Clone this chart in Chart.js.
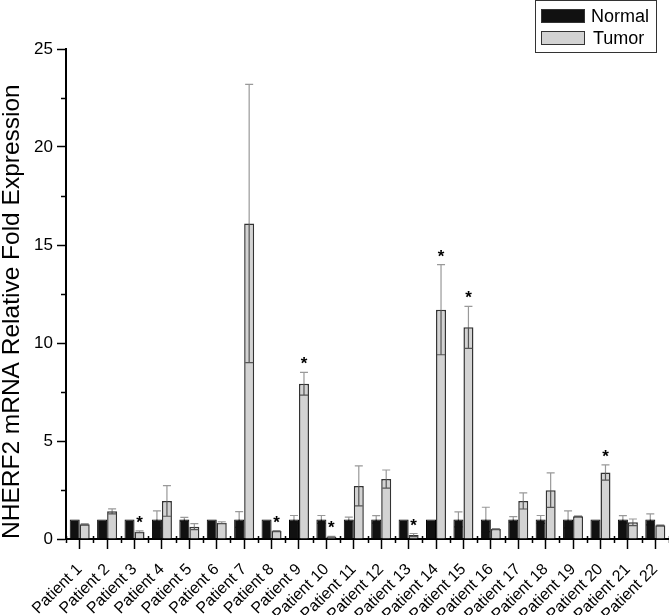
<!DOCTYPE html>
<html>
<head>
<meta charset="utf-8">
<title>NHERF2 mRNA</title>
<script src="https://cdn.jsdelivr.net/npm/chart.js@4.4.0/dist/chart.umd.min.js"></script>
<style>
    html, body { margin: 0; padding: 0; background: #fff; }
    canvas { display: block; }
</style>
</head>
<body>
<canvas id="nherfChart" width="669" height="615"></canvas>
<script>
// Kategorier (patienter)
const patients = [
    "Patient 1", "Patient 2", "Patient 3", "Patient 4", "Patient 5", "Patient 6",
    "Patient 7", "Patient 8", "Patient 9", "Patient 10", "Patient 11", "Patient 12",
    "Patient 13", "Patient 14", "Patient 15", "Patient 16", "Patient 17", "Patient 18",
    "Patient 19", "Patient 20", "Patient 21", "Patient 22"
];

// Normal vävnad är referens (1.0)
const normalValues = [1, 1, 1, 1, 1, 1, 1, 1, 1, 1, 1, 1, 1, 1, 1, 1, 1, 1, 1, 1, 1, 1];
const normalErrors = [0, 0, 0, 0.44, 0.1, 0, 0.4, 0, 0.2, 0.2, 0.12, 0.19, 0, 0, 0.38, 0.62, 0.14, 0.2, 0.43, 0, 0.19, 0.28];

// Tumörvävnad
const tumorValues = [0.75, 1.41, 0.37, 1.94, 0.63, 0.83, 16.1, 0.41, 7.92, 0.12, 2.71, 3.06, 0.2, 11.7, 10.8, 0.51, 1.94, 2.49, 1.16, 3.39, 0.85, 0.7];
const tumorErrors = [0.03, 0.13, 0.04, 0.78, 0.15, 0.05, 7.1, 0.02, 0.58, 0.02, 1.02, 0.46, 0.08, 2.3, 1.07, 0.02, 0.41, 0.88, 0.02, 0.39, 0.17, 0.02];

// Signifikanta skillnader (*)
const significant = [false, false, true, false, false, false, false, true, true, true, false, false, true, true, true, false, false, false, false, true, false, false];

// Y-axelns tick-etiketter
const yTicks = [0, 5, 10, 15, 20, 25];

const FONT = "'Liberation Sans', Arial, Helvetica, sans-serif";

/**Ritar felstaplar, stjärnor, små tick-markeringar och legend. */
const extrasPlugin = {
    id: "extras",
    afterDatasetsDraw(chart) {
        const ctx = chart.ctx;
        const x = chart.scales.x;
        const y = chart.scales.y;
        const errs = [normalErrors, tumorErrors];

        ctx.save();
        //Felstaplar (del inne i stapeln syns bara på tumörstaplar)
        chart.data.datasets.forEach((ds, di) => {
            const meta = chart.getDatasetMeta(di);
            meta.data.forEach((bar, i) => {
                const err = errs[di][i];
                if (!err) return;
                const v = ds.data[i];
                const yTop = y.getPixelForValue(v + err);
                const yBar = y.getPixelForValue(v);
                const yBot = y.getPixelForValue(Math.max(v - err, 0));
                const half = bar.width / 2 - 1;
                ctx.lineWidth = 1.2;
                ctx.strokeStyle = "#999";
                ctx.beginPath();
                ctx.moveTo(bar.x, yBar);
                ctx.lineTo(bar.x, yTop);
                ctx.moveTo(bar.x - half, yTop);
                ctx.lineTo(bar.x + half, yTop);
                ctx.stroke();
                ctx.strokeStyle = di === 0 ? "#111" : "#555";
                ctx.beginPath();
                ctx.moveTo(bar.x, yBar);
                ctx.lineTo(bar.x, yBot);
                ctx.moveTo(bar.x - half, yBot);
                ctx.lineTo(bar.x + half, yBot);
                ctx.stroke();
            });
        });

        //Stjärnor över tumörstaplar
        const tMeta = chart.getDatasetMeta(1);
        ctx.fillStyle = "#000";
        ctx.font = "bold 17px " + FONT;
        ctx.textAlign = "center";
        ctx.textBaseline = "alphabetic";
        significant.forEach((s, i) => {
            if (!s) return;
            const bar = tMeta.data[i];
            const top = y.getPixelForValue(tumorValues[i] + tumorErrors[i]);
            ctx.fillText("*", bar.x, top - 3);
        });

        //Små tick-markeringar på y-axeln (2.5-steg)
        ctx.strokeStyle = "#000";
        ctx.lineWidth = 1.5;
        ctx.beginPath();
        for (let v = 2.5; v < 25; v += 5) {
            const py = Math.round(y.getPixelForValue(v)) + 0.5;
            ctx.moveTo(y.right - 5, py);
            ctx.lineTo(y.right, py);
        }
        //Små tick-markeringar på kategorigränser
        const step = (x.right - x.left) / patients.length;
        for (let k = 0; k <= patients.length; k++) {
            const px = Math.round(x.left + k * step) + 0.5;
            ctx.moveTo(px, x.top - 3);
            ctx.lineTo(px, x.top + 4);
        }
        ctx.stroke();

        //Legend
        ctx.lineWidth = 1;
        ctx.strokeStyle = "#333";
        ctx.strokeRect(535.5, 0.5, 121, 52);
        ctx.fillStyle = "#111";
        ctx.fillRect(541, 9, 44, 14);
        ctx.strokeRect(541.5, 9.5, 43, 13);
        ctx.fillStyle = "#d3d3d3";
        ctx.fillRect(541, 31, 44, 14);
        ctx.strokeRect(541.5, 31.5, 43, 13);
        ctx.fillStyle = "#000";
        ctx.font = "18px " + FONT;
        ctx.textAlign = "left";
        ctx.textBaseline = "middle";
        ctx.fillText(chart.data.datasets[0].label, 591, 17);
        ctx.fillText(chart.data.datasets[1].label, 593, 39);
        ctx.restore();
    }
};

function createBarChart() {
    const ctx = document.getElementById("nherfChart");

    new Chart(ctx, {
        type: "bar",
        data: {
            labels: patients,
            datasets: [{
                label: "Normal",
                data: normalValues,
                backgroundColor: "#111",
                borderColor: "#000",
                borderWidth: 1
            }, {
                label: "Tumor",
                data: tumorValues,
                backgroundColor: "#d3d3d3",
                borderColor: "#333",
                borderWidth: 1.5
            }]
        },
        options: {
            responsive: false,
            animation: false,
            layout: { padding: { top: 49, right: 0, left: 0, bottom: 0 } },
            datasets: {
                bar: { categoryPercentage: 0.73, barPercentage: 1 }
            },
            plugins: {
                legend: { display: false },
                tooltip: { enabled: false }
            },
            scales: {
                x: {
                    offset: true,
                    grid: {
                        offset: false,
                        drawOnChartArea: false,
                        drawTicks: true,
                        tickLength: 10,
                        tickColor: "#000",
                        tickWidth: 1.5
                    },
                    border: { color: "#000", width: 2 },
                    ticks: {
                        autoSkip: false,
                        maxRotation: 45,
                        minRotation: 45,
                        padding: 11,
                        color: "#000",
                        font: { family: FONT, size: 16 }
                    },
                    afterFit(scale) {
                        scale.height = 76;
                        scale.paddingLeft = 0;
                        scale.paddingRight = 0;
                    }
                },
                y: {
                    min: 0,
                    max: 25,
                    grid: {
                        drawOnChartArea: false,
                        drawTicks: true,
                        tickLength: 9,
                        tickColor: "#000",
                        tickWidth: 1.5
                    },
                    border: { color: "#000", width: 2 },
                    afterBuildTicks(scale) {
                        scale.ticks = yTicks.map(v => ({ value: v }));
                    },
                    ticks: {
                        padding: 4,
                        color: "#000",
                        font: { family: FONT, size: 17 }
                    },
                    title: {
                        display: true,
                        align: "start",
                        text: "NHERF2 mRNA Relative Fold Expression",
                        color: "#000",
                        font: { family: FONT, size: 24.5, lineHeight: 1 },
                        padding: { top: 0, bottom: 0 }
                    },
                    afterFit(scale) { scale.width = 66; }
                }
            }
        },
        plugins: [extrasPlugin]
    });
}

createBarChart();
</script>
</body>
</html>
